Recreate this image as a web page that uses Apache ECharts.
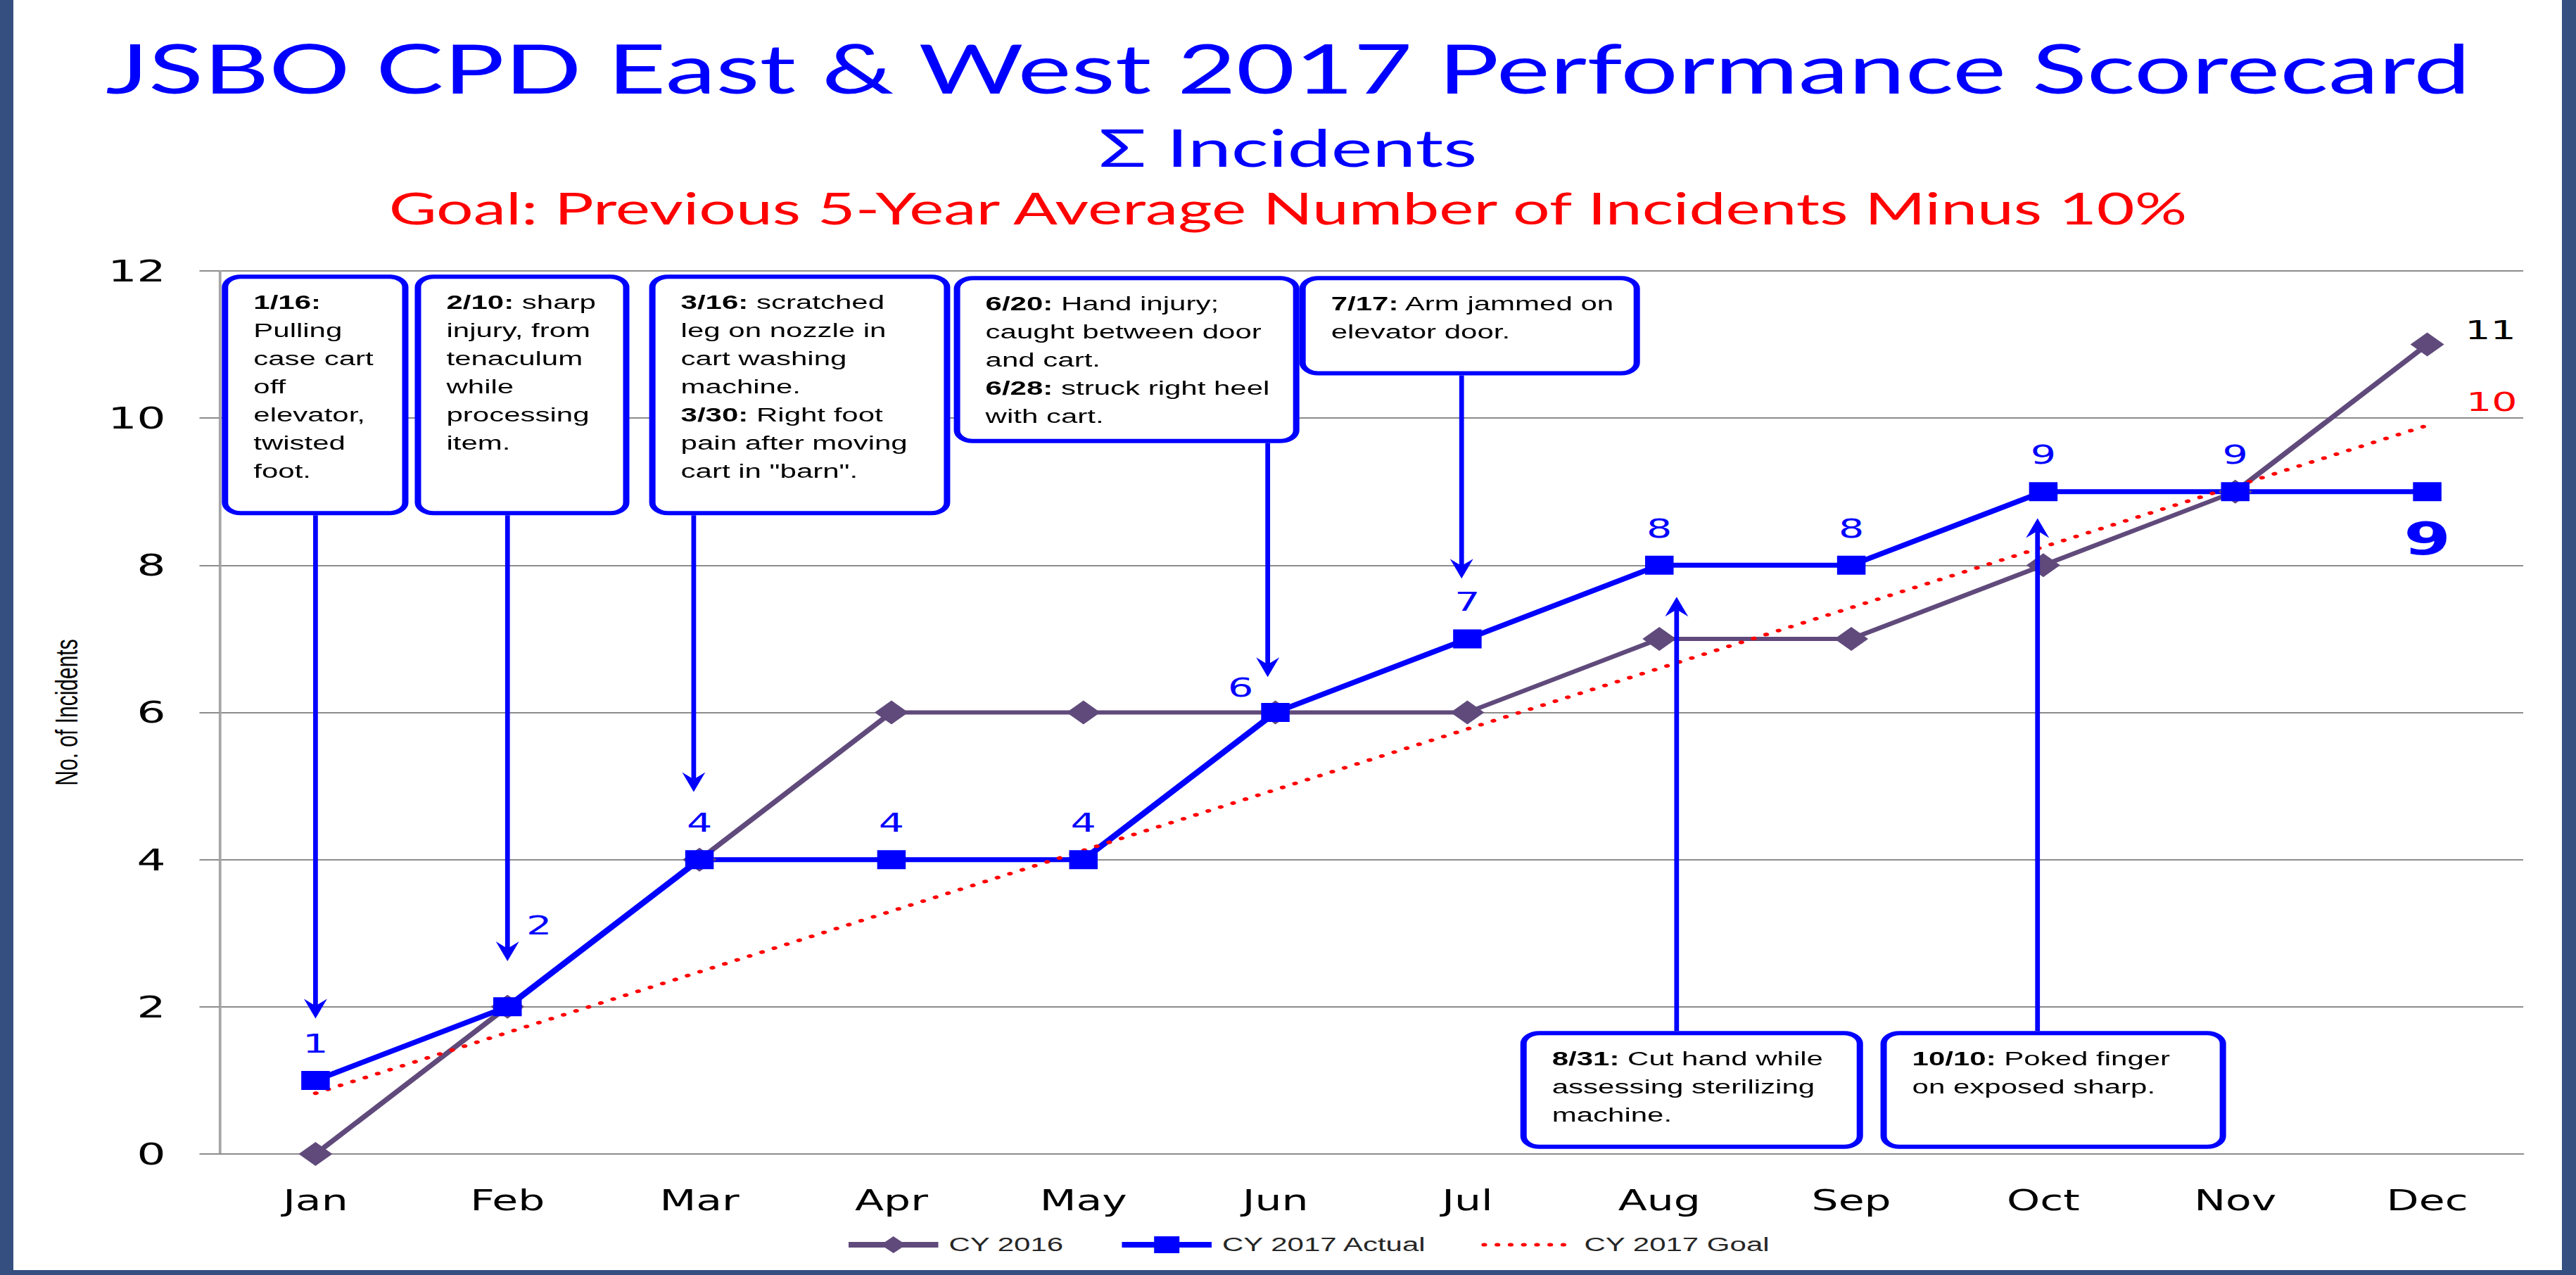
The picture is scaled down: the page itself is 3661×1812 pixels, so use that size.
<!DOCTYPE html>
<html><head><meta charset="utf-8">
<script src="https://cdn.jsdelivr.net/npm/echarts@6/dist/echarts.min.js"></script>
<style>
html,body{margin:0;padding:0;width:3661px;height:1812px;overflow:hidden;background:#fff}
#main{position:absolute;left:0;top:0;width:2440.667px;height:1812px;transform:scaleX(1.5);transform-origin:0 0}
.bar{position:absolute;background:#344f80}
</style></head><body>
<div id="main"></div>
<div class="bar" style="left:0;top:0;width:19px;height:1812px"></div>
<div class="bar" style="left:3641px;top:0;width:20px;height:1812px"></div>
<div class="bar" style="left:0;top:1805px;width:3661px;height:7px"></div>
<script>
// ---- data ----
const months = ['Jan','Feb','Mar','Apr','May','Jun','Jul','Aug','Sep','Oct','Nov','Dec'];
const cy2016 = [0, 2, 4, 6, 6, 6, 6, 7, 7, 8, 9, 11];
const cy2017Actual = [1, 2, 4, 4, 4, 6, 7, 8, 8, 9, 9, 9];
const cy2017Goal = [0.825, 1.65, 2.475, 3.3, 4.125, 4.95, 5.775, 6.6, 7.425, 8.25, 9.075, 9.9];
const seriesNames = ['CY 2016', 'CY 2017 Actual', 'CY 2017 Goal'];
const titleText = 'JSBO CPD East & West 2017 Performance Scorecard';
const subtitleText = '\u03A3 Incidents';
const goalText = 'Goal: Previous 5-Year Average Number of Incidents Minus 10%';
const yAxisName = 'No. of Incidents';
const noteTexts = [
  ['{b|1/16:}', 'Pulling', 'case cart', 'off', 'elevator,', 'twisted', 'foot.'],
  ['{b|2/10:} sharp', 'injury, from', 'tenaculum', 'while', 'processing', 'item.'],
  ['{b|3/16:} scratched', 'leg on nozzle in', 'cart washing', 'machine.', '{b|3/30:} Right foot', 'pain after moving', 'cart in "barn".'],
  ['{b|6/20:} Hand injury;', 'caught between door', 'and cart.', '{b|6/28:} struck right heel', 'with cart.'],
  ['{b|7/17:} Arm jammed on', 'elevator door.'],
  ['{b|8/31:} Cut hand while', 'assessing sterilizing', 'machine.'],
  ['{b|10/10:} Poked finger', 'on exposed sharp.']
];

// ---- layout / style (axis units for annotation placement) ----
const noteLayout = [
  {x0:-0.488, x1:0.484, yTop:11.95, yBot:8.68,  ax:0.00, aFrom:8.68,  aTo:1.84},
  {x0:0.517,  x1:1.635, yTop:11.95, yBot:8.68,  ax:1.00, aFrom:8.68,  aTo:2.62},
  {x0:1.738,  x1:3.306, yTop:11.95, yBot:8.68,  ax:1.97, aFrom:8.68,  aTo:4.92},
  {x0:3.325,  x1:5.125, yTop:11.93, yBot:9.66,  ax:4.96, aFrom:9.66,  aTo:6.48},
  {x0:5.125,  x1:6.899, yTop:11.93, yBot:10.58, ax:5.97, aFrom:10.58, aTo:7.82},
  {x0:6.276,  x1:8.061, yTop:1.67,  yBot:0.07,  ax:7.09, aFrom:1.67,  aTo:7.57},
  {x0:8.152,  x1:9.952, yTop:1.67,  yBot:0.07,  ax:8.97, aFrom:1.67,  aTo:8.64}
];
const actualLabelOffsets = [[0,-53],[30,-116],[0,-53],[0,-53],[0,-53],[-33,-36],[0,-53],[0,-53],[0,-53],[0,-53],[0,-53],[0,67]];

const BLUE = '#0000ff', PURPLE = '#604a7b', RED = '#ff0000', GRID = '#8c8c8c';
const NUMFONT = 'DejaVu Sans';

const actualData = cy2017Actual.map((v, i) => {
  const last = i === cy2017Actual.length - 1;
  return {value: v, label: {show: true, position: 'inside', offset: actualLabelOffsets[i],
    fontFamily: NUMFONT, fontSize: last ? 64 : 38, fontWeight: last ? 'bold' : 'normal', color: BLUE}};
});
const data2016 = cy2016.map((v, i) => {
  const last = i === cy2016.length - 1;
  return {value: v, label: {show: last, position: 'inside', offset: [60, -21], fontFamily: NUMFONT, fontSize: 38, color: '#000'}};
});

const option = {
  animation: false,
  backgroundColor: '#fff',
  title: [
    {text: titleText, left: 'center', top: 43, textStyle: {fontFamily: 'Lato', fontSize: 96, fontWeight: 'normal', color: BLUE}},
    {text: subtitleText, left: 'center', top: 166, textStyle: {fontFamily: 'Lato, "DejaVu Sans"', fontSize: 74, fontWeight: 'normal', color: BLUE}},
    {text: goalText, left: 'center', top: 259, textStyle: {fontFamily: 'Lato', fontSize: 62, fontWeight: 'normal', color: RED}}
  ],
  grid: {left: 208, right: 50, top: 385, bottom: 172},
  xAxis: {
    type: 'category', data: months, boundaryGap: true,
    axisLine: {show: true, lineStyle: {color: GRID, width: 2}},
    axisTick: {show: false},
    axisLabel: {fontFamily: NUMFONT, fontSize: 40, color: '#000', margin: 46}
  },
  yAxis: {
    type: 'value', min: 0, max: 12, interval: 2,
    name: yAxisName, nameLocation: 'middle', nameRotate: 90, nameGap: 130,
    nameTextStyle: {fontFamily: 'Liberation Sans', fontSize: 30, color: '#000'},
    axisLine: {show: true, lineStyle: {color: '#a6a6a6', width: 2.5}},
    axisTick: {show: true, length: 19, lineStyle: {color: GRID, width: 2}},
    axisLabel: {fontFamily: NUMFONT, fontSize: 43, color: '#000', margin: 51},
    splitLine: {lineStyle: {color: GRID, width: 2}}
  },
  legend: {
    left: 795, top: 1750, itemWidth: 85, itemHeight: 30, itemGap: 51,
    textStyle: {fontFamily: 'Liberation Sans', fontSize: 28, color: '#262626', padding: [0, 0, 0, 5]},
    lineStyle: {width: 8},
    data: [
      {name: seriesNames[0], lineStyle: {width: 8, color: PURPLE}},
      {name: seriesNames[1], lineStyle: {width: 8, color: BLUE}},
      {name: seriesNames[2], itemStyle: {opacity: 0}, lineStyle: {width: 5, color: RED, type: [0.5, 12], cap: 'round'}}
    ]
  },
  series: [
    {name: seriesNames[0], type: 'line', data: data2016, color: PURPLE,
     symbol: 'diamond', symbolSize: [32, 34], itemStyle: {color: PURPLE},
     lineStyle: {color: PURPLE, width: 6}},
    {name: seriesNames[1], type: 'line', data: actualData, color: BLUE,
     symbol: 'rect', symbolSize: 27, itemStyle: {color: BLUE},
     lineStyle: {color: BLUE, width: 7}},
    {name: seriesNames[2], type: 'line', data: cy2017Goal, color: RED,
     symbol: 'none', lineStyle: {color: RED, width: 5, type: [0.5, 12.5], cap: 'round'},
     endLabel: {show: true, formatter: p => String(Math.round(p.value)), fontFamily: NUMFONT, fontSize: 38,
                color: RED, distance: 0, offset: [37, -34]}}
  ]
};

const chart = echarts.init(document.getElementById('main'), null, {renderer: 'svg', width: 2440.667, height: 1812});
chart.setOption(option);

const p0 = chart.convertToPixel({xAxisIndex: 0}, 0);
const p1 = chart.convertToPixel({xAxisIndex: 0}, 1);
const px = i => p0 + (p1 - p0) * i;
const py = v => chart.convertToPixel({yAxisIndex: 0}, v);

const SW = 6;
const elements = [];
noteLayout.forEach((n, k) => {
  const x0 = px(n.x0) + SW / 2, x1 = px(n.x1) - SW / 2;
  const y0 = py(n.yTop) + SW / 2, y1 = py(n.yBot) - SW / 2;
  const ax = px(n.ax), fy = py(n.aFrom), ty = py(n.aTo);
  const dir = ty > fy ? 1 : -1;
  elements.push({type: 'line', z: 99, shape: {x1: ax, y1: fy, x2: ax, y2: ty - dir * 18},
    style: {stroke: BLUE, lineWidth: 4.5}});
  elements.push({type: 'polygon', z: 99, shape: {points: [[ax - 11, ty - dir * 28], [ax, ty - dir * 18], [ax + 11, ty - dir * 28], [ax, ty]]},
    style: {fill: BLUE}});
  elements.push({type: 'rect', z: 100, shape: {x: x0, y: y0, width: x1 - x0, height: y1 - y0, r: 15},
    style: {fill: '#fff', stroke: BLUE, lineWidth: SW}});
  elements.push({type: 'text', z: 101, style: {
    x: x0 + 27, y: y0 + 16, text: noteTexts[k].join('\n'),
    fontFamily: 'Liberation Sans', fontSize: 28, lineHeight: 40, fill: '#000',
    align: 'left', verticalAlign: 'top', textAlign: 'left', textVerticalAlign: 'top',
    rich: {b: {fontFamily: 'Liberation Sans', fontSize: 28, fontWeight: 'bold', lineHeight: 40, fill: '#000'}}
  }});
});
chart.setOption({graphic: elements});
</script>
</body></html>
